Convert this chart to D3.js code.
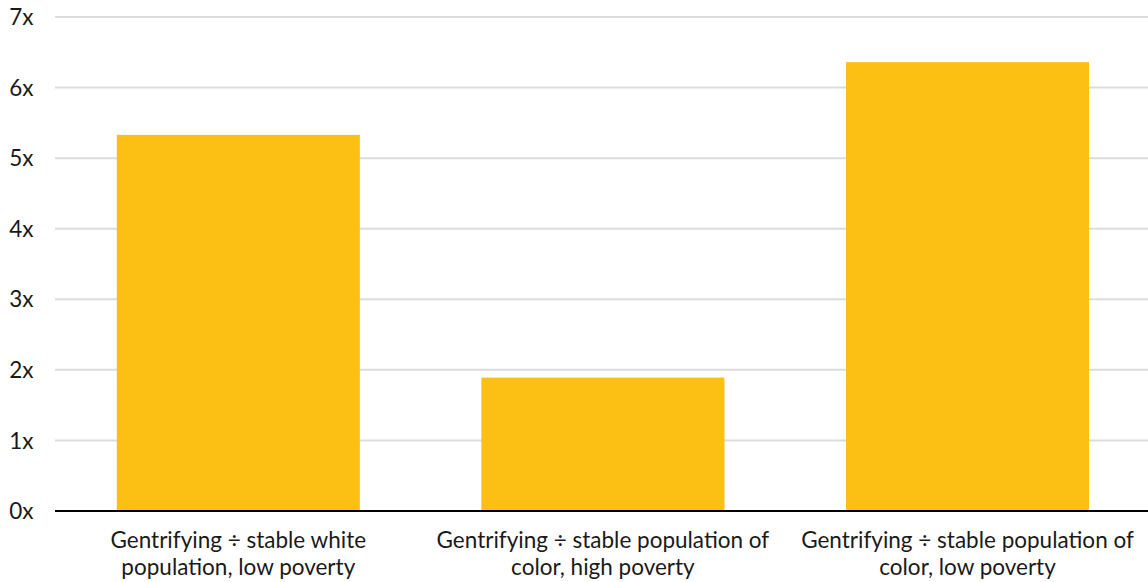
<!DOCTYPE html>
<html>
<head>
<meta charset="utf-8">
<script src="https://cdn.jsdelivr.net/npm/d3@7"></script>
<style>
  html, body { margin: 0; padding: 0; background: #fff; }
  svg { display: block; font-family: Lato, "Noto Sans", sans-serif; }
</style>
</head>
<body>
<svg id="chart" width="1148" height="582"></svg>
<script>
// Ratio of gentrifying tracts to stable tracts, by neighborhood type
const categories = [
  ["Gentrifying ÷ stable white", "population, low poverty"],
  ["Gentrifying ÷ stable population of", "color, high poverty"],
  ["Gentrifying ÷ stable population of", "color, low poverty"]
];
const ratios = [5.33, 1.89, 6.36];
const yTicks = [0, 1, 2, 3, 4, 5, 6, 7];

const svg = d3.select("#chart");
const plotLeft = 56, plotRight = 1149.8, plotTop = 17, plotBottom = 511;
const fontSize = 22.5;

const x = d3.scaleBand()
  .domain(d3.range(categories.length))
  .range([plotLeft, plotRight])
  .paddingInner(1 / 3)
  .paddingOuter(1 / 6);

const y = d3.scaleLinear().domain([0, 7]).range([plotBottom, plotTop]);

// horizontal gridlines
svg.append("g")
  .selectAll("line")
  .data(yTicks.filter(d => d > 0))
  .join("line")
  .attr("x1", 55).attr("x2", 1148)
  .attr("y1", d => y(d)).attr("y2", d => y(d))
  .attr("stroke", "#dcdcdc")
  .attr("stroke-width", 2);

// y tick labels
svg.append("g")
  .selectAll("text")
  .data(yTicks)
  .join("text")
  .attr("x", 33.5)
  .attr("y", d => y(d))
  .attr("dy", "0.36em")
  .attr("text-anchor", "end")
  .attr("font-size", fontSize)
  .attr("fill", "#1a1a1a")
  .text(d => d + "x");

// bars
svg.append("g")
  .selectAll("rect")
  .data(ratios)
  .join("rect")
  .attr("x", (d, i) => x(i))
  .attr("width", x.bandwidth())
  .attr("y", d => y(d))
  .attr("height", d => y(0) - y(d))
  .attr("fill", "#fcbf14");

// baseline
svg.append("line")
  .attr("x1", 55).attr("x2", 1148)
  .attr("y1", y(0)).attr("y2", y(0))
  .attr("stroke", "#000")
  .attr("stroke-width", 2);

// category labels (two lines each)
const lab = svg.append("g")
  .selectAll("text")
  .data(categories)
  .join("text")
  .attr("x", (d, i) => x(i) + x.bandwidth() / 2)
  .attr("y", 548)
  .attr("text-anchor", "middle")
  .attr("font-size", fontSize)
  .attr("fill", "#1a1a1a");
lab.selectAll("tspan")
  .data(d => d)
  .join("tspan")
  .attr("x", function () { return this.parentNode.getAttribute("x"); })
  .attr("dy", (d, i) => i === 0 ? 0 : 27)
  .text(d => d);
</script>
</body>
</html>
